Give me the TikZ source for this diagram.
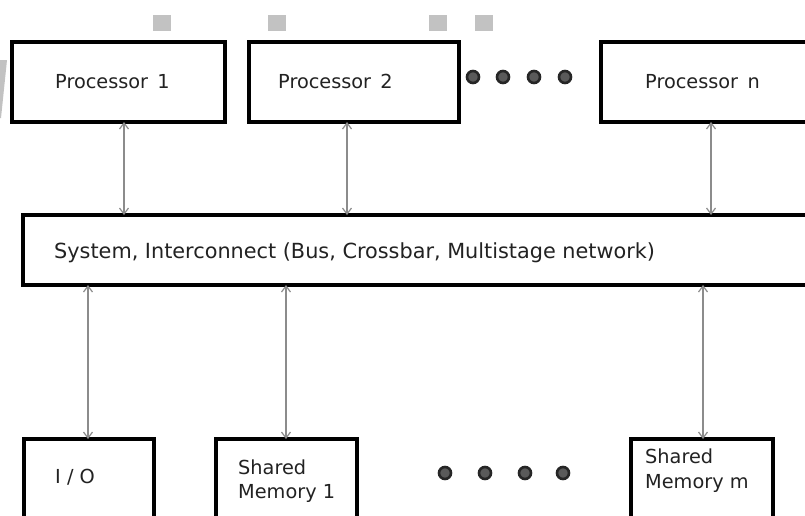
\documentclass[tikz,border=0pt]{standalone}
\usepackage{fontspec}
\setmainfont{DejaVu Sans}
\usetikzlibrary{arrows.meta}
\definecolor{txtc}{HTML}{222222}
\definecolor{connc}{HTML}{8C8C8C}
\definecolor{sqc}{HTML}{C2C2C2}
\definecolor{dotc}{HTML}{5A5A5A}
\tikzset{
  box/.style={draw=black, line width=3.4pt, fill=white, rectangle, inner sep=0pt, outer sep=0pt, anchor=north west},
  txt/.style={inner sep=0pt, anchor=base west, text=txtc, font=\fontsize{19.3}{24}\selectfont},
  conn/.style={draw=connc, line width=1.2pt, {Straight Barb[length=6pt,width=9pt]}-{Straight Barb[length=6pt,width=9pt]}},
  ellip/.style={circle, draw=black!85, fill=dotc, line width=2.6pt, minimum size=12pt, inner sep=0pt},
  sq/.style={fill=sqc, draw=none, rectangle, inner sep=0pt, minimum width=18pt, minimum height=16pt, anchor=north west}
}
\begin{document}
\begin{tikzpicture}[x=1pt,y=-1pt]
\useasboundingbox (0,0) rectangle (805,515);
\clip (0,0) rectangle (805,515);
\fill[white] (0,0) rectangle (805,515);
% watermark fragment
\fill[sqc] (0,60) -- (7,60) -- (1,118) -- (0,118) -- cycle;
% grey squares
\node[sq] (s1) at (153,15) {};
\node[sq] (s2) at (268,15) {};
\node[sq] (s3) at (429,15) {};
\node[sq] (s4) at (475,15) {};
% processors
\node[box, minimum width=213pt, minimum height=80pt] (p1) at (12,42) {};
\node[box, minimum width=210pt, minimum height=80pt] (p2) at (249,42) {};
\node[box, minimum width=215pt, minimum height=80pt] (pn) at (601,42) {};
\node[txt] (tp1) at (55,88) {Processor\ \,1};
\node[txt] (tp2) at (278,88) {Processor\ \,2};
\node[txt] (tpn) at (645,88) {Processor\ \,n};
% dots top
\node[ellip] (d1) at (473,77) {};
\node[ellip] (d2) at (503,77) {};
\node[ellip] (d3) at (534,77) {};
\node[ellip] (d4) at (565,77) {};
% bus
\node[box, minimum width=795pt, minimum height=70pt] (bus) at (23,215) {};
\node[txt, font=\fontsize{20.8}{24}\selectfont] (tbus) at (54,258) {System, Interconnect (Bus, Crossbar, Multistage network)};
% bottom boxes
\node[box, minimum width=130pt, minimum height=90pt] (io) at (24,439) {};
\node[box, minimum width=141pt, minimum height=90pt] (sm1) at (216,439) {};
\node[box, minimum width=142pt, minimum height=90pt] (smm) at (631,439) {};
\node[txt] (tio) at (55,483) {I / O};
\node[txt] (tsm1a) at (238,474) {Shared};
\node[txt] (tsm1b) at (238,498) {Memory 1};
\node[txt] (tsmma) at (645,463) {Shared};
\node[txt] (tsmmb) at (645,488) {Memory m};
% dots bottom
\node[ellip] (e1) at (445,473) {};
\node[ellip] (e2) at (485,473) {};
\node[ellip] (e3) at (525,473) {};
\node[ellip] (e4) at (563,473) {};
% connectors
\draw[conn] (p1.south -| 124,0) -- (bus.north -| 124,0);
\draw[conn] (p2.south -| 347,0) -- (bus.north -| 347,0);
\draw[conn] (pn.south -| 711,0) -- (bus.north -| 711,0);
\draw[conn] (bus.south -| 88,0) -- (io.north -| 88,0);
\draw[conn] (bus.south -| 286,0) -- (sm1.north -| 286,0);
\draw[conn] (bus.south -| 703,0) -- (smm.north -| 703,0);
\end{tikzpicture}
\end{document}
